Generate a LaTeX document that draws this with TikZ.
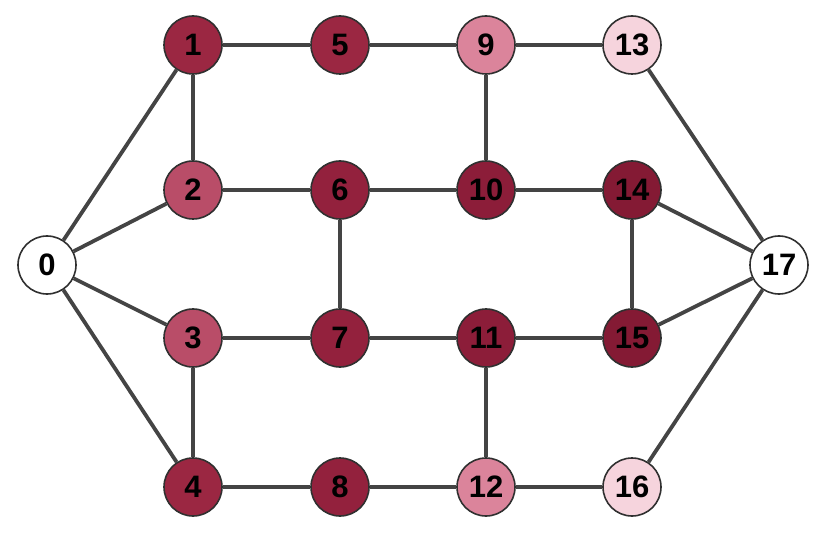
\documentclass[tikz,border=0pt]{standalone}
\usepackage{fontspec}
\setmainfont{Liberation Sans}
\definecolor{cA}{HTML}{9B2742}
\definecolor{cB}{HTML}{93213D}
\definecolor{cC}{HTML}{8C1D39}
\definecolor{cD}{HTML}{841A34}
\definecolor{cM}{HTML}{B94D68}
\definecolor{cL}{HTML}{DB849B}
\definecolor{cP}{HTML}{F6D4DD}
\definecolor{edgec}{HTML}{444444}
\definecolor{bordc}{HTML}{303030}
\begin{document}
\begin{tikzpicture}[x=1pt,y=-1pt,
  vtx/.style={circle,draw=bordc,line width=1.6pt,minimum size=58pt,inner sep=0pt,font=\fontsize{31}{31}\selectfont\bfseries},
  edge/.style={draw=edgec,line width=3.8pt}]
\useasboundingbox (0,0) rectangle (832,553);
\node[vtx,fill=white] (n0) at (47,265) {0};
\node[vtx,fill=cA] (n1) at (193,45) {1};
\node[vtx,fill=cA] (n5) at (340,45) {5};
\node[vtx,fill=cL] (n9) at (486,45) {9};
\node[vtx,fill=cP] (n13) at (632,45) {13};
\node[vtx,fill=cM] (n2) at (193,190) {2};
\node[vtx,fill=cB] (n6) at (340,190) {6};
\node[vtx,fill=cC] (n10) at (486,190) {10};
\node[vtx,fill=cD] (n14) at (632,190) {14};
\node[vtx,fill=white] (n17) at (779,265) {17};
\node[vtx,fill=cM] (n3) at (193,338) {3};
\node[vtx,fill=cB] (n7) at (340,338) {7};
\node[vtx,fill=cC] (n11) at (486,338) {11};
\node[vtx,fill=cD] (n15) at (632,338) {15};
\node[vtx,fill=cA] (n4) at (193,487) {4};
\node[vtx,fill=cB] (n8) at (340,487) {8};
\node[vtx,fill=cL] (n12) at (486,487) {12};
\node[vtx,fill=cP] (n16) at (632,487) {16};
\foreach \a/\b in {n0/n1,n0/n2,n0/n3,n0/n4,n1/n2,n1/n5,n5/n9,n9/n13,n9/n10,n2/n6,n6/n10,n10/n14,n6/n7,n14/n15,n14/n17,n15/n17,n13/n17,n16/n17,n3/n7,n7/n11,n11/n15,n3/n4,n11/n12,n4/n8,n8/n12,n12/n16}
  \path[edge] (\a) -- (\b);
\end{tikzpicture}
\end{document}
